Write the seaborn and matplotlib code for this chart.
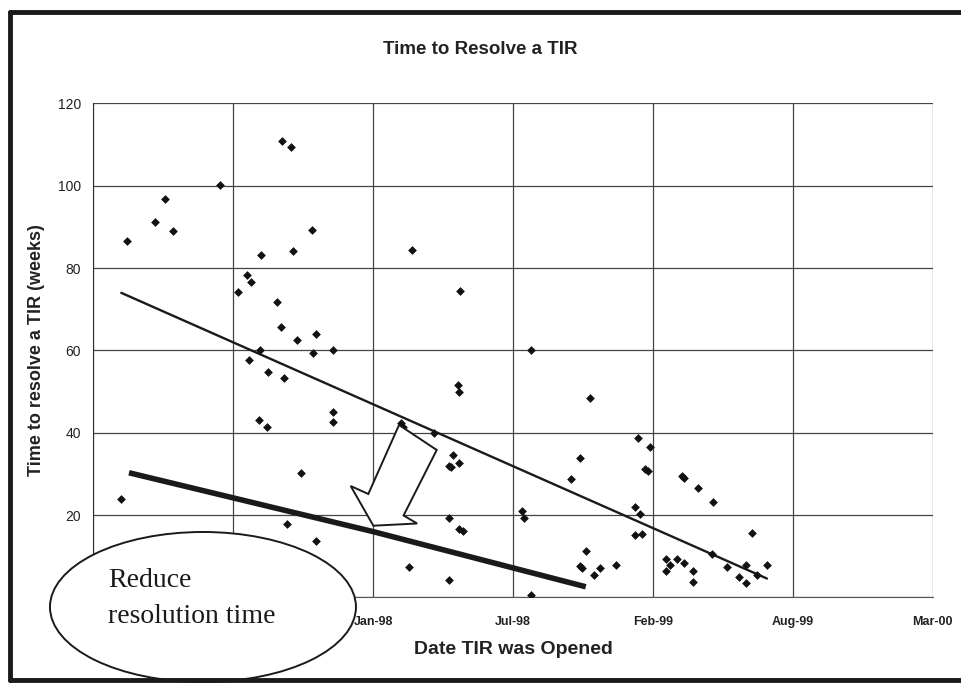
import matplotlib
matplotlib.use("Agg")
import matplotlib.pyplot as plt
from matplotlib.patches import Ellipse, Polygon
from matplotlib.lines import Line2D
import pandas as pd
import seaborn as sns

# TIR open dates and time taken to resolve each one (weeks)
opened = [
    "1997-01-10", "1997-01-18", "1997-02-27", "1997-03-13", "1997-03-25",
    "1997-05-31", "1997-06-26", "1997-07-08", "1997-07-12", "1997-07-15",
    "1997-07-26", "1997-07-27", "1997-07-29", "1997-08-06", "1997-08-08",
    "1997-08-21", "1997-08-27", "1997-08-28", "1997-08-30", "1997-09-04",
    "1997-09-09", "1997-09-12", "1997-09-18", "1997-09-24", "1997-10-09",
    "1997-10-11", "1997-10-15", "1997-10-16", "1997-11-08", "1997-11-09",
    "1997-11-09", "1998-02-14", "1998-02-17", "1998-02-25", "1998-03-02",
    "1998-04-02", "1998-04-23", "1998-04-24", "1998-04-24", "1998-04-26",
    "1998-04-29", "1998-05-07", "1998-05-08", "1998-05-08", "1998-05-08",
    "1998-05-09", "1998-05-14", "1998-08-06", "1998-08-08", "1998-08-19",
    "1998-08-19", "1998-10-15", "1998-10-28", "1998-10-28", "1998-10-31",
    "1998-11-05", "1998-11-11", "1998-11-17", "1998-11-25", "1998-12-18",
    "1999-01-15", "1999-01-15", "1999-01-18", "1999-01-21", "1999-01-24",
    "1999-01-29", "1999-02-02", "1999-02-05", "1999-02-27", "1999-02-27",
    "1999-03-06", "1999-03-16", "1999-03-23", "1999-03-26", "1999-03-26",
    "1999-04-07", "1999-04-07", "1999-04-14", "1999-05-05", "1999-05-06",
    "1999-05-26", "1999-06-12", "1999-06-22", "1999-06-22", "1999-06-30",
    "1999-07-08", "1999-07-22",
]
weeks = [
    24.0, 86.5, 91.3, 96.9, 89.0,
    100.1, 74.3, 78.3, 57.7, 76.6,
    43.1, 60.1, 83.1, 41.5, 54.8,
    71.7, 65.6, 110.9, 53.3, 17.9,
    109.4, 84.2, 62.6, 30.3, 89.2,
    59.3, 63.9, 13.8, 45.1, 42.6,
    60.1, 42.3, 41.5, 7.5, 84.5,
    40.0, 19.3, 4.3, 32.0, 31.6,
    34.5, 51.5, 49.9, 32.6, 16.6,
    74.5, 16.1, 21.0, 19.3, 60.1,
    0.5, 28.7, 34.0, 7.6, 7.1,
    11.3, 48.4, 5.5, 7.1, 7.8,
    22.0, 15.2, 38.8, 20.2, 15.4,
    31.3, 30.7, 36.6, 9.3, 6.5,
    7.9, 9.4, 29.5, 29.1, 8.3,
    6.5, 3.8, 26.5, 10.5, 23.2,
    7.5, 5.0, 7.8, 3.4, 15.6,
    5.5, 7.8,
]

# Linear trend of resolution time
trend_dates = ["1997-01-10", "1999-07-22"]
trend_weeks = [74.0, 4.6]

# Target line: reduced resolution time
goal_dates = ["1997-01-21", "1998-01-05", "1998-11-05"]
goal_weeks = [30.3, 16.0, 2.6]

# Axis ticks (the first labels sit under the callout)
x_tick_dates = ["1996-12-01", "1997-06-19", "1998-01-05", "1998-07-24",
                "1999-02-09", "1999-08-28", "2000-03-15"]
x_tick_labels = ["", "", "Jan-98", "Jul-98", "Feb-99", "Aug-99", "Mar-00"]
y_ticks = [0, 20, 40, 60, 80, 100, 120]
y_tick_labels = ["", "20", "40", "60", "80", "100", "120"]

points = pd.DataFrame({"opened": pd.to_datetime(opened), "weeks": weeks})
trend = pd.DataFrame({"opened": pd.to_datetime(trend_dates), "weeks": trend_weeks})
goal = pd.DataFrame({"opened": pd.to_datetime(goal_dates), "weeks": goal_weeks})
xticks = pd.to_datetime(x_tick_dates)

sns.set_style("white")
plt.rcParams["font.family"] = ["Liberation Sans", "DejaVu Sans"]

fig = plt.figure(figsize=(9.61, 6.83), dpi=100)
ax = fig.add_axes([0.0971, 0.1252, 0.8735, 0.7233])

sns.lineplot(data=trend, x="opened", y="weeks", ax=ax, color="#1a1a1a",
             linewidth=1.7, zorder=3)
sns.lineplot(data=goal, x="opened", y="weeks", ax=ax, color="#1a1a1a",
             linewidth=4.0, zorder=3, solid_capstyle="butt")
sns.scatterplot(data=points, x="opened", y="weeks", ax=ax, marker="D",
                s=20, color="#111111", linewidth=0, zorder=4)

ax.set_xlim(xticks[0], xticks[-1])
ax.set_ylim(0, 120)
ax.set_xticks(xticks)
ax.set_xticklabels(x_tick_labels)
ax.set_yticks(y_ticks)
ax.set_yticklabels(y_tick_labels)

ax.grid(True, color="#444444", linewidth=0.9)
ax.set_axisbelow(True)
for side in ["top", "right"]:
    ax.spines[side].set_visible(False)
ax.spines["left"].set_color("#333333")
ax.spines["bottom"].set_color("#555555")
ax.tick_params(axis="y", direction="out", length=5, width=0.9, color="#333333",
               pad=4, labelsize=10, labelcolor="#222222")
ax.tick_params(axis="x", direction="out", length=4, width=0.9, color="#333333",
               pad=9, labelsize=9, labelcolor="#222222")
for lbl in ax.get_xticklabels():
    lbl.set_fontweight("bold")

ax.set_xlabel("Date TIR was Opened", fontsize=14, fontweight="bold",
              color="#222222", labelpad=10)
ax.set_ylabel("Time to resolve a TIR (weeks)", fontsize=13, fontweight="bold",
              color="#222222", labelpad=9)
fig.text(0.5, 1 - 50 / 683, "Time to Resolve a TIR", ha="center", va="center",
         fontsize=13.5, fontweight="bold", color="#222222")

# Hollow block arrow pointing down-left
arrow = Polygon([(0.3642, 0.3492), (0.4091, 0.2986), (0.3696, 0.1660),
                 (0.3857, 0.1498), (0.3336, 0.1453), (0.3066, 0.2257),
                 (0.3276, 0.2095)], closed=True, transform=ax.transAxes,
                facecolor="white", edgecolor="#1a1a1a", linewidth=1.4, zorder=5)
ax.add_patch(arrow)

# Callout ellipse
ell = Ellipse((0.2112, 0.1113), 0.3184, 0.2196, transform=fig.transFigure,
              facecolor="white", edgecolor="#1a1a1a", linewidth=1.4, zorder=10)
fig.add_artist(ell)
serif = ["Liberation Serif", "DejaVu Serif"]
fig.text(0.1124, 1 - 587 / 683, "Reduce", fontsize=20, va="baseline",
         family=serif, color="#1a1a1a", zorder=11)
fig.text(0.1124, 1 - 623 / 683, "resolution time", fontsize=20, va="baseline",
         family=serif, color="#1a1a1a", zorder=11)

# Page frame
frame_kw = dict(transform=fig.transFigure, color="#1a1a1a", linewidth=3.5, zorder=12)
fig.add_artist(Line2D([10 / 961, 1], [1 - 12 / 683, 1 - 12 / 683], **frame_kw))
fig.add_artist(Line2D([10 / 961, 1], [1 - 680 / 683, 1 - 680 / 683], **frame_kw))
fig.add_artist(Line2D([10 / 961, 10 / 961], [1 - 680 / 683, 1 - 12 / 683], **frame_kw))

fig.savefig("out.png", dpi=100)
